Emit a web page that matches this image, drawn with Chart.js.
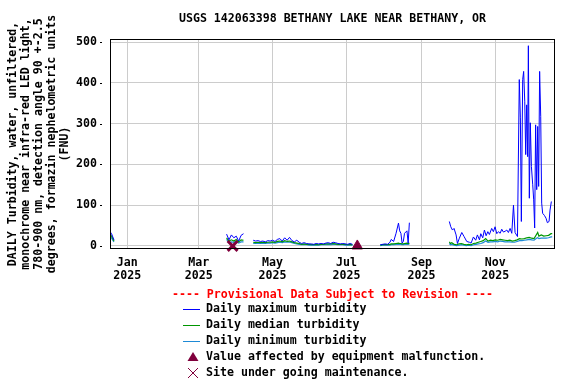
<!DOCTYPE html>
<html>
<head>
<meta charset="utf-8">
<script src="https://cdn.jsdelivr.net/npm/chart.js@4"></script>
<style>
body { margin: 0; background: #fff; }
</style>
</head>
<body>
<canvas id="chart" width="576" height="384"></canvas>
<script>
// x values are days counted from 1 Jan 2025
const tickDays = [0, 59, 120, 181, 243, 304];
const tickMonths = ['Jan', 'Mar', 'May', 'Jul', 'Sep', 'Nov'];
const tickYears = ['2025', '2025', '2025', '2025', '2025', '2025'];
const yTicks = [0, 100, 200, 300, 400, 500];

// Dec 2024 to Aug 2025 (null = gap in record)
const days = [
  -14, -13, -12, -11, -5,
  82, 84, 86, 88, 90, 92, 94, 96, 100,
  104, 106, 108, 110, 112, 114, 116, 118, 120, 122, 124, 126, 128, 130,
  132, 134, 136, 138, 140, 142, 144, 146, 148, 150, 152, 154, 156, 158,
  160, 162, 164, 166, 168, 170, 172, 174, 176, 178, 180, 182, 184, 186, 200,
  209, 211, 213, 215, 217, 218, 220, 222, 224, 225, 226, 227, 228, 229, 231, 232, 233, 250
];
const maxTurb = [
  34, 30, 22, 15, null,
  29, 15, 27, 20, 24, 12, 26, 30, null,
  14, 12, 13, 11, 12, 10, 13, 12, 14, 11, 16, 18, 12, 20,
  14, 21, 13, 10, 14, 9, 6, 8, 6, 5, 5, 4, 6, 5,
  6, 5, 7, 8, 6, 9, 8, 6, 5, 6, 5, 4, 6, 4, null,
  3, 4, 5, 4, 9, 16, 11, 31, 56, 37, 31, 7, 11, 31, 37, 7, 57, null
];
const medTurb = [
  27, 24, 18, 12, null,
  20, 12, 15, 12, 16, 10, 15, 14, null,
  9, 8, 9, 8, 9, 8, 9, 9, 10, 9, 11, 12, 10, 13,
  11, 12, 10, 8, 7, 6, 4, 5, 4, 4, 3, 3, 4, 3,
  4, 4, 5, 5, 5, 6, 5, 4, 4, 4, 4, 3, 4, 3, null,
  2, 3, 3, 3, 4, 5, 5, 6, 7, 6, 6, 5, 5, 6, 7, 6, 7, null
];
const minTurb = [
  22, 19, 14, 10, null,
  16, 8, 10, 9, 12, 7, 10, 10, null,
  6, 6, 7, 6, 7, 6, 7, 7, 8, 7, 8, 9, 8, 10,
  9, 9, 8, 6, 5, 4, 3, 3, 3, 2, 2, 2, 2, 2,
  3, 3, 3, 4, 3, 4, 4, 3, 3, 3, 2, 2, 2, 2, null,
  1, 2, 2, 2, 2, 3, 3, 4, 4, 4, 4, 3, 3, 4, 4, 4, 5, null
];

// Sep to Dec 2025
const fallDays = [
  266, 267, 268, 270, 272, 274, 276, 278, 280, 282, 284, 286, 288, 290, 292, 294,
  296, 298, 300, 302, 304, 306, 308, 310, 312, 314, 316, 318, 320, 322, 324, 326,
  328, 330, 332, 334, 336, 338, 339, 340, 342, 344, 346, 348, 350, 350.5
];
const fallMed = [
  10, 6, 8, 4, 3, 5, 6, 4, 3, 4, 3, 6, 7, 9, 11, 13,
  18, 12, 14, 13, 15, 14, 16, 15, 14, 13, 14, 12, 13, 15, 18, 17,
  18, 20, 21, 19, 18, 28, 33, 24, 27, 24, 25, 26, 30, 32
];
const fallMin = [
  6, 3, 4, 2, 1, 2, 3, 2, 1, 2, 1, 3, 4, 5, 6, 8,
  12, 9, 10, 10, 11, 10, 12, 11, 10, 10, 10, 9, 9, 11, 13, 13,
  14, 15, 16, 15, 14, 19, 20, 18, 19, 19, 19, 20, 22, 24
];
const spikeDays = [
  266, 267.2, 268.6, 269.9, 271.6, 272.7, 274.3, 276.3, 278.2, 280.4, 282.6, 284,
  285.9, 287.8, 289.2, 290.9, 292, 293.6, 295, 296.4, 297.8, 299.1, 301, 302.4,
  303.8, 305.2, 306.6, 308, 309.3, 310.7, 312.1, 313.5, 314.8, 316.2, 317.6, 319,
  320.3, 322.3, 323.8, 324.7, 325.5, 326.6, 327.4, 328.3, 329.1, 329.9, 330.7, 331.3,
  332.1, 332.9, 333.8, 334.9, 335.7, 336.5, 337.3, 338.2, 339, 339.8, 340.6, 341.5,
  342.3, 343.1, 344.5, 345.9, 347, 348.4, 349.2, 350.3
];
const spikeMax = [
  60, 47, 39, 43, 27, 6, 19, 33, 23, 11, 9, 7,
  22, 14, 27, 15, 30, 20, 39, 25, 35, 28, 43, 35,
  47, 30, 35, 31, 41, 34, 36, 39, 33, 43, 31, 100,
  33, 23, 408, 314, 60, 408, 428, 355, 224, 346, 219, 491,
  117, 302, 195, 150, 113, 44, 297, 138, 293, 146, 428, 318,
  105, 80, 75, 68, 57, 60, 88, 109
];

const malfunctionDays = [190];
const maintenanceDays = [87];

const yTitle = [
  'DAILY Turbidity, water, unfiltered,',
  'monochrome near infra-red LED light,',
  '780-900 nm, detection angle 90 +-2.5',
  'degrees, formazin nephelometric units',
  '(FNU)'
];
const chartTitle = 'USGS 142063398 BETHANY LAKE NEAR BETHANY, OR';
const provisional = '---- Provisional Data Subject to Revision ----';
const legendItems = [
  { label: 'Daily maximum turbidity', color: '#0000ff', kind: 'line' },
  { label: 'Daily median turbidity', color: '#009600', kind: 'line' },
  { label: 'Daily minimum turbidity', color: '#1e8ad6', kind: 'line' },
  { label: 'Value affected by equipment malfunction.', color: '#80003c', kind: 'tri' },
  { label: 'Site under going maintenance.', color: '#80003c', kind: 'x' }
];

const FONT = "'DejaVu Sans Mono', monospace";
const MAROON = '#80003c';

function pts(xs, ys) {
  return xs.map((x, i) => ({ x: x, y: ys[i] }));
}

const extras = {
  id: 'extras',
  beforeDraw(chart) {
    const ctx = chart.ctx;
    ctx.save();
    ctx.fillStyle = '#fff';
    ctx.fillRect(0, 0, chart.width, chart.height);
    ctx.restore();
  },
  afterDraw(chart) {
    const ctx = chart.ctx;
    const a = chart.chartArea;
    const yScale = chart.scales.y;
    ctx.save();

    // frame round the plot
    ctx.strokeStyle = '#000';
    ctx.lineWidth = 1;
    ctx.strokeRect(a.left + 0.5, a.top + 0.5, a.right - a.left - 1, a.bottom - a.top - 1);

    // small y tick marks
    yTicks.forEach(v => {
      const y = Math.round(yScale.getPixelForValue(v)) + 0.5;
      ctx.beginPath();
      ctx.moveTo(100, y);
      ctx.lineTo(102, y);
      ctx.stroke();
    });

    ctx.font = 'bold 11.6px ' + FONT;
    ctx.fillStyle = '#000';
    ctx.textBaseline = 'middle';

    // title
    ctx.textAlign = 'center';
    ctx.fillText(chartTitle, (a.left + a.right) / 2, 19);

    // y axis title, rotated
    yTitle.forEach((line, i) => {
      ctx.save();
      ctx.translate(12.5 + i * 13, (a.top + a.bottom) / 2);
      ctx.rotate(-Math.PI / 2);
      ctx.fillText(line, 0, 0);
      ctx.restore();
    });

    // legend
    ctx.fillStyle = '#ff0000';
    ctx.fillText(provisional, (a.left + a.right) / 2, 295);
    ctx.textAlign = 'left';
    legendItems.forEach((item, i) => {
      const y = 309 + i * 16;
      ctx.strokeStyle = item.color;
      ctx.fillStyle = item.color;
      ctx.lineWidth = 1;
      if (item.kind === 'line') {
        ctx.beginPath();
        ctx.moveTo(183, y + 0.5);
        ctx.lineTo(200, y + 0.5);
        ctx.stroke();
      } else if (item.kind === 'tri') {
        ctx.beginPath();
        ctx.moveTo(193, y - 5);
        ctx.lineTo(198.5, y + 4);
        ctx.lineTo(187.5, y + 4);
        ctx.closePath();
        ctx.fill();
      } else {
        ctx.beginPath();
        ctx.moveTo(188, y - 5);
        ctx.lineTo(198, y + 5);
        ctx.moveTo(188, y + 5);
        ctx.lineTo(198, y - 5);
        ctx.stroke();
      }
      ctx.fillStyle = '#000';
      ctx.fillText(item.label, 206, y);
    });
    ctx.restore();
  }
};

new Chart(document.getElementById('chart'), {
  type: 'line',
  data: {
    datasets: [
      {
        label: 'malfunction',
        data: malfunctionDays.map(d => ({ x: d, y: 0 })),
        showLine: false,
        pointStyle: 'triangle',
        pointRadius: 6,
        backgroundColor: MAROON,
        borderColor: MAROON,
        borderWidth: 1,
        clip: false
      },
      {
        label: 'maintenance',
        data: maintenanceDays.map(d => ({ x: d, y: 0 })),
        showLine: false,
        pointStyle: 'crossRot',
        pointRadius: 7,
        borderColor: MAROON,
        borderWidth: 3,
        clip: false
      },
      {
        label: 'max',
        data: pts(days, maxTurb).concat(pts(spikeDays, spikeMax)),
        borderColor: '#0000ff',
        borderWidth: 1,
        pointRadius: 0,
        tension: 0,
        spanGaps: false
      },
      {
        label: 'median',
        data: pts(days, medTurb).concat(pts(fallDays, fallMed)),
        borderColor: '#009600',
        borderWidth: 1.2,
        pointRadius: 0,
        tension: 0,
        spanGaps: false
      },
      {
        label: 'min',
        data: pts(days, minTurb).concat(pts(fallDays, fallMin)),
        borderColor: '#1e8ad6',
        borderWidth: 1.2,
        pointRadius: 0,
        tension: 0,
        spanGaps: false
      }
    ]
  },
  options: {
    responsive: false,
    animation: false,
    events: [],
    layout: { padding: { left: 0, right: 21, top: 39, bottom: 0 } },
    plugins: {
      legend: { display: false },
      title: { display: false },
      tooltip: { enabled: false }
    },
    scales: {
      x: {
        type: 'linear',
        min: -14.3,
        max: 353.3,
        afterFit: s => { s.height = 135; },
        afterBuildTicks: s => { s.ticks = tickDays.map(v => ({ value: v })); },
        grid: { color: '#cccccc', lineWidth: 1, drawTicks: false },
        border: { display: false },
        ticks: {
          autoSkip: false,
          maxRotation: 0,
          padding: 8,
          color: '#000',
          font: { family: FONT, size: 11.6, weight: 'bold', lineHeight: 1.1 },
          callback: (v, i) => [tickMonths[i], tickYears[i]]
        }
      },
      y: {
        min: -7.5,
        max: 507.5,
        afterFit: s => { s.width = 110; },
        afterBuildTicks: s => { s.ticks = yTicks.map(v => ({ value: v })); },
        grid: { color: '#cccccc', lineWidth: 1, drawTicks: false },
        border: { display: false },
        ticks: {
          padding: 13,
          color: '#000',
          font: { family: FONT, size: 11.6, weight: 'bold' }
        }
      }
    }
  },
  plugins: [extras]
});
</script>
</body>
</html>
